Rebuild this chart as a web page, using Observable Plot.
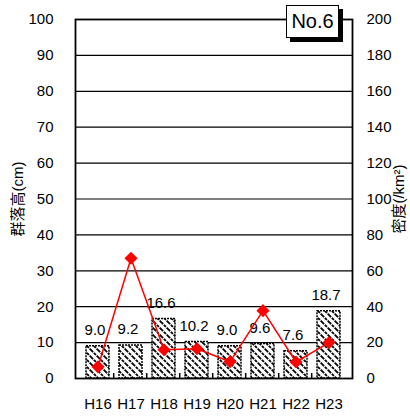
<!DOCTYPE html>
<html><head><meta charset="utf-8">
<script src="https://cdn.jsdelivr.net/npm/d3@7"></script>
<script src="https://cdn.jsdelivr.net/npm/@observablehq/plot@0.6"></script>
<style>
body{margin:0;background:#fff;}
#wrap{position:relative;width:410px;height:416px;}
#title{position:absolute;left:286px;top:5px;width:51px;height:31px;border:1.5px solid #000;background:#fff;box-shadow:4px 4px 0 #000;font:20px "Liberation Sans",Arial,sans-serif;display:flex;align-items:center;justify-content:center;box-sizing:content-box;}
</style></head><body><div id="wrap"></div>
<script>
const years = ["H16","H17","H18","H19","H20","H21","H22","H23"];
const heights = [9.0,9.2,16.6,10.2,9.0,9.6,7.6,18.7];
const densities = [6.5,67,16,16.6,9.3,37.8,9.2,20];
const leftTicks = [0,10,20,30,40,50,60,70,80,90,100];
const rightTicks = [0,20,40,60,80,100,120,140,160,180,200];

const rows = years.map((y,i)=>({year:y, h:heights[i], d:densities[i]}));
const font = '"Liberation Sans","Noto Sans CJK JP",sans-serif';

const chart = Plot.plot({
  width:410, height:416,
  marginLeft:75, marginRight:58, marginTop:19, marginBottom:38,
  style:{fontFamily:font, fontSize:"15px", color:"#000", background:"#fff", overflow:"visible"},
  x:{domain:years, padding:0.3, label:null},
  y:{domain:[0,100], label:null},
  marks:[
    Plot.ruleY(leftTicks, {stroke:"#000", strokeWidth:1.2}),
    Plot.barY(rows, {x:"year", y:"h", fill:"url(#hatch)", stroke:"#000", strokeWidth:1.5, strokeDasharray:"2,1"}),
    Plot.text(rows, {x:"year", y:"h", text:d=>d.h.toFixed(1), dy:-16, dx:-3, fontSize:15}),
    Plot.line(rows, {x:"year", y:d=>d.d/2, stroke:"#ff0000", strokeWidth:1.5}),
    Plot.dot(rows, {x:"year", y:d=>d.d/2, symbol:"diamond2", r:5.9, fill:"#ff0000"}),
    Plot.ruleX(years.slice(1), {x:d=>d, dx:-17.3, y1:0, y2:1.4, stroke:"#000", strokeWidth:1.5}),
    Plot.frame({stroke:"#000", strokeWidth:1.8}),
    Plot.axisX({tickSize:0, tickPadding:20, fontSize:15, label:null}),
    Plot.axisY({anchor:"left", ticks:leftTicks, tickSize:0, tickPadding:22, fontSize:15, label:"群落高(cm)", labelArrow:"none", labelAnchor:"center", labelOffset:63}),
    Plot.axisY({anchor:"right", ticks:leftTicks, tickFormat:(d,i)=>rightTicks[i], tickSize:0, tickPadding:14, fontSize:15, label:"密度(/km²)", labelArrow:"none", labelAnchor:"center", labelOffset:51})
  ]
});
const svg = d3.select(chart);
const pat = svg.insert("defs", ":first-child").append("pattern")
  .attr("id","hatch").attr("patternUnits","userSpaceOnUse").attr("width",7).attr("height",7);
pat.append("rect").attr("width",7).attr("height",7).attr("fill","#fff");
pat.append("path").attr("d","M0,0L7,7M-3.5,3.5L3.5,10.5M3.5,-3.5L10.5,3.5").attr("stroke","#000").attr("stroke-width",1.8).attr("stroke-dasharray","3,1");
const wrap = document.getElementById("wrap");
wrap.appendChild(chart);
const t = document.createElement("div");
t.id = "title"; t.textContent = "No.6";
wrap.appendChild(t);
</script></body></html>
